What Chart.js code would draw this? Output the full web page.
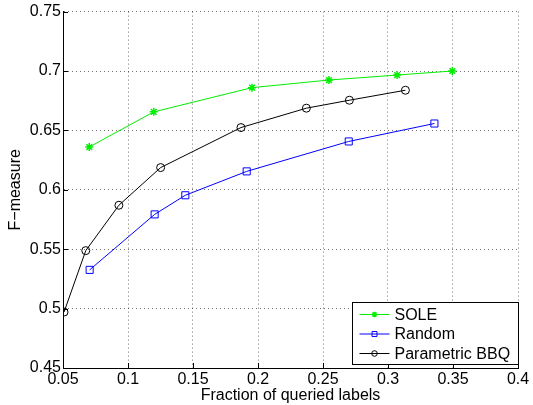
<!DOCTYPE html>
<html>
<head>
<meta charset="utf-8">
<script src="https://cdn.jsdelivr.net/npm/chart.js@4.4.0/dist/chart.umd.min.js"></script>
<style>
html,body{margin:0;padding:0;background:#fff;}
#wrap{width:533px;height:405px;position:relative;}
</style>
</head>
<body>
<div id="wrap"><canvas id="c" width="533" height="405"></canvas></div>
<script>
// ---- data ----
const seriesNames = ["SOLE", "Random", "Parametric BBQ"];
const soleX = [0.0702, 0.1198, 0.1954, 0.2546, 0.3070, 0.3495];
const soleY = [0.6360, 0.6656, 0.6860, 0.6924, 0.6966, 0.7000];
const randomX = [0.0705, 0.1205, 0.1441, 0.1913, 0.2698, 0.3357];
const randomY = [0.5326, 0.5793, 0.5954, 0.6155, 0.6407, 0.6558];
const bbqX = [0.0508, 0.0675, 0.0930, 0.1251, 0.1869, 0.2372, 0.2703, 0.3134];
const bbqY = [0.4971, 0.5488, 0.5870, 0.6187, 0.6524, 0.6687, 0.6754, 0.6838];
const xTicks = [0.05, 0.1, 0.15, 0.2, 0.25, 0.3, 0.35, 0.4];
const xTickLabels = ["0.05", "0.1", "0.15", "0.2", "0.25", "0.3", "0.35", "0.4"];
const yTicks = [0.45, 0.5, 0.55, 0.6, 0.65, 0.7, 0.75];
const yTickLabels = ["0.45", "0.5", "0.55", "0.6", "0.65", "0.7", "0.75"];
const xTitle = "Fraction of queried labels";
const yTitle = "F\u2212measure";

const FONT = "'Liberation Sans', Arial, Helvetica, sans-serif";
const pts = (xs, ys) => xs.map((x, i) => ({x: x, y: ys[i]}));

const styles = [
  {color: "#00ee00", pointStyle: "star", radius: 4, bw: 1.5},
  {color: "#0000ff", pointStyle: "rect", radius: 5, bw: 1},
  {color: "#000000", pointStyle: "circle", radius: 4, bw: 1}
];
const dataArr = [pts(soleX, soleY), pts(randomX, randomY), pts(bbqX, bbqY)];

const datasets = dataArr.map((d, i) => ({
  label: seriesNames[i],
  data: d,
  showLine: true,
  borderColor: styles[i].color,
  backgroundColor: "rgba(0,0,0,0)",
  borderWidth: 1,
  pointStyle: styles[i].pointStyle,
  pointRadius: styles[i].radius,
  pointBorderColor: styles[i].color,
  pointBackgroundColor: "rgba(0,0,0,0)",
  pointBorderWidth: styles[i].bw,
  pointHoverRadius: styles[i].radius,
  tension: 0
}));

// inward tick marks
const tickPlugin = {
  id: "inTicks",
  afterDatasetsDraw(chart) {
    const ctx = chart.ctx, a = chart.chartArea;
    const xs = chart.scales.x, ys = chart.scales.y;
    ctx.save();
    ctx.strokeStyle = "#000";
    ctx.lineWidth = 1;
    ctx.beginPath();
    xTicks.forEach(v => {
      const px = Math.round(xs.getPixelForValue(v)) + 0.5;
      ctx.moveTo(px, a.bottom); ctx.lineTo(px, a.bottom - 5);
    });
    yTicks.forEach(v => {
      const py = Math.round(ys.getPixelForValue(v)) + 0.5;
      ctx.moveTo(a.left, py); ctx.lineTo(a.left + 5, py);
    });
    ctx.stroke();
    ctx.restore();
  }
};

// MATLAB-style legend
const legendPlugin = {
  id: "mlLegend",
  afterDraw(chart) {
    const ctx = chart.ctx, a = chart.chartArea;
    const w = 166, h = 62;
    const x0 = Math.round(a.right - w) + 0.5, y0 = Math.round(a.bottom - 4 - h) + 0.5;
    ctx.save();
    ctx.fillStyle = "#fff";
    ctx.fillRect(x0, y0, w, h);
    ctx.strokeStyle = "#000";
    ctx.lineWidth = 1;
    ctx.strokeRect(x0, y0, w, h);
    ctx.font = "16px " + FONT;
    ctx.textBaseline = "middle";
    ctx.textAlign = "left";
    chart.data.datasets.forEach((ds, i) => {
      const cy = y0 + 12 + i * 19.5;
      ctx.strokeStyle = ds.borderColor;
      ctx.lineWidth = 1;
      ctx.beginPath();
      ctx.moveTo(x0 + 7, cy); ctx.lineTo(x0 + 37, cy);
      ctx.stroke();
      ctx.fillStyle = "rgba(0,0,0,0)";
      ctx.strokeStyle = ds.pointBorderColor;
      ctx.lineWidth = ds.pointBorderWidth;
      Chart.helpers.drawPoint(ctx, {
        pointStyle: ds.pointStyle, radius: ds.pointRadius * 0.7, borderWidth: ds.pointBorderWidth, rotation: 0
      }, x0 + 22, cy);
      ctx.fillStyle = "#000";
      ctx.fillText(ds.label, x0 + 42, cy + 1);
    });
    ctx.restore();
  }
};

new Chart(document.getElementById("c"), {
  type: "scatter",
  data: {datasets: datasets},
  options: {
    responsive: false,
    animation: false,
    events: [],
    layout: {padding: {left: 0, right: 15, top: 10, bottom: 0}},
    plugins: {legend: {display: false}, tooltip: {enabled: false}},
    scales: {
      x: {
        type: "linear",
        min: 0.05, max: 0.4,
        afterBuildTicks: s => { s.ticks = xTicks.map(v => ({value: v})); },
        afterFit: s => { s.height = 37; },
        ticks: {
          callback: (v, i) => xTickLabels[i],
          font: {size: 16, family: FONT},
          color: "#000",
          padding: 2,
          maxRotation: 0, autoSkip: false
        },
        grid: {color: "rgba(0,0,0,0.55)", lineWidth: 1, drawTicks: false},
        border: {display: true, color: "#000", width: 1, dash: [1, 3]},
        title: {display: true, text: xTitle, font: {size: 16, family: FONT}, color: "#000", padding: {top: -2, bottom: 0}}
      },
      y: {
        type: "linear",
        min: 0.45, max: 0.75,
        afterBuildTicks: s => { s.ticks = yTicks.map(v => ({value: v})); },
        afterFit: s => { s.width = 63; },
        ticks: {
          callback: (v, i) => yTickLabels[i],
          font: {size: 16, family: FONT},
          color: "#000",
          padding: 2,
          autoSkip: false
        },
        grid: {color: "rgba(0,0,0,0.55)", lineWidth: 1, drawTicks: false},
        border: {display: true, color: "#000", width: 1, dash: [1, 3]},
        title: {display: true, text: yTitle, font: {size: 16, family: FONT}, color: "#000", padding: {top: 6, bottom: 0}}
      }
    }
  },
  plugins: [tickPlugin, legendPlugin]
});
</script>
</body>
</html>
